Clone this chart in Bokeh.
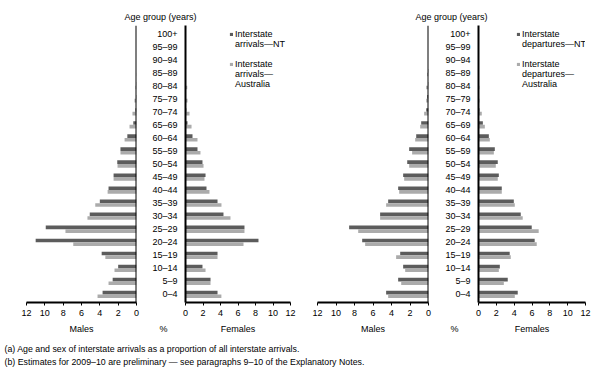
from bokeh.plotting import figure
from bokeh.models import (FactorRange, Range1d, Span, Label, Legend, LegendItem,
                          FixedTicker, ColumnDataSource)
from bokeh.layouts import row, column
from bokeh.transform import dodge
from bokeh.embed import file_html
from bokeh.resources import INLINE

# ---------------- data (bottom to top) ----------------
ages = ["0–4", "5–9", "10–14", "15–19", "20–24", "25–29", "30–34", "35–39",
        "40–44", "45–49", "50–54", "55–59", "60–64", "65–69", "70–74", "75–79",
        "80–84", "85–89", "90–94", "95–99", "100+"]

arr_males_nt = [3.7, 2.6, 2.0, 3.8, 11.0, 9.9, 5.1, 4.0, 3.05, 2.5, 2.1, 1.75, 1.0,
                0.35, 0.12, 0.05, 0.03, 0, 0, 0, 0]
arr_males_aus = [4.25, 3.05, 2.4, 3.4, 6.9, 7.75, 5.35, 4.5, 3.15, 2.5, 2.07, 1.75, 1.3,
                 0.76, 0.44, 0.22, 0.11, 0.03, 0, 0, 0]
arr_females_nt = [3.66, 2.86, 1.94, 3.66, 8.34, 6.74, 4.34, 3.66, 2.4, 2.29, 1.94, 1.37, 0.8,
                  0.23, 0.1, 0.05, 0.03, 0, 0, 0, 0]
arr_females_aus = [4.1, 2.86, 2.29, 3.66, 6.63, 6.74, 5.14, 4.11, 2.74, 2.17, 2.06, 1.71, 1.37,
                   0.69, 0.46, 0.23, 0.2, 0.05, 0, 0, 0]

dep_males_nt = [4.58, 3.28, 2.74, 3.06, 7.17, 8.58, 5.23, 4.36, 3.28, 2.74, 2.3, 2.09, 1.33,
                0.79, 0.25, 0.14, 0.05, 0.05, 0, 0, 0]
dep_males_aus = [4.36, 2.95, 2.52, 3.5, 6.85, 7.6, 5.23, 4.58, 3.17, 2.63, 2.09, 1.77, 1.44,
                 0.9, 0.47, 0.25, 0.25, 0.14, 0, 0, 0]
dep_females_nt = [4.4, 3.28, 2.39, 3.5, 6.3, 5.97, 4.74, 3.96, 2.61, 2.28, 2.16, 1.83, 1.16,
                  0.49, 0.11, 0.05, 0.05, 0, 0, 0, 0]
dep_females_aus = [4.07, 2.84, 2.28, 3.62, 6.53, 6.75, 4.96, 4.07, 2.61, 2.16, 1.94, 1.72, 1.27,
                   0.71, 0.37, 0.11, 0.11, 0.05, 0, 0, 0]

x_ticks = [0, 2, 4, 6, 8, 10, 12]
header_text = "Age group (years)"
arr_labels = [["Interstate", "arrivals—NT"], ["Interstate", "arrivals—", "Australia"]]
dep_labels = [["Interstate", "departures—NT"], ["Interstate", "departures—", "Australia"]]
axis_titles = ["Males", "%", "Females"]
footnotes = ["(a) Age and sex of interstate arrivals as a proportion of all interstate arrivals.",
             "(b) Estimates for 2009–10 are preliminary — see paragraphs 9–10 of the Explanatory Notes."]

# ---------------- style ----------------
FONT = "Liberation Sans"
FS = "9px"
DARK = "#5c5c5c"
LIGHT = "#ababab"
FRAME_H = 277
BOTTOM = 19
FIG_H = FRAME_H + BOTTOM


def base_fig(width, left, right, x_range, yloc):
    p = figure(width=width, height=FIG_H, x_range=x_range,
               y_range=FactorRange(factors=ages, range_padding=0.011),
               output_backend="svg", toolbar_location=None,
               y_axis_location=yloc, min_border_left=left, min_border_right=right,
               min_border_top=0, min_border_bottom=BOTTOM)
    p.outline_line_color = None
    p.xgrid.visible = False
    p.ygrid.visible = False
    ax = p.xaxis[0]
    ax.ticker = FixedTicker(ticks=x_ticks)
    ax.axis_line_width = 2
    ax.axis_line_color = "black"
    ax.major_tick_out = 3
    ax.major_tick_in = 0
    ax.minor_tick_out = 0
    ax.minor_tick_in = 0
    ax.major_tick_line_color = "black"
    ax.major_label_standoff = 4
    ax.major_label_text_font = FONT
    ax.major_label_text_font_size = FS
    ax.major_label_text_color = "black"
    return p


def bars(p, nt, aus):
    src = ColumnDataSource(dict(age=ages, nt=nt, aus=aus))
    r1 = p.hbar(y=dodge("age", 0.14, range=p.y_range), left=0, right="nt", height=0.28,
                source=src, fill_color=DARK, line_color=None)
    r2 = p.hbar(y=dodge("age", -0.14, range=p.y_range), left=0, right="aus", height=0.28,
                source=src, fill_color=LIGHT, line_color=None)
    return r1, r2


def male_fig(width, left, frame_w, nt, aus):
    p = base_fig(width, left, width - left - frame_w, Range1d(12, 0), None)
    bars(p, nt, aus)
    p.add_layout(Span(location=0, dimension="height", line_color="black", line_width=2))
    return p


def female_fig(width, left, frame_w, nt, aus, labels, leg_x):
    p = base_fig(width, left, width - left - frame_w, Range1d(0, 12), "left")
    ya = p.yaxis[0]
    ya.axis_line_width = 2
    ya.axis_line_color = "black"
    ya.major_tick_out = 0
    ya.major_tick_in = 0
    ya.major_label_standoff = 8
    ya.major_label_text_font = FONT
    ya.major_label_text_font_size = FS
    ya.major_label_text_color = "black"
    r1, r2 = bars(p, nt, aus)
    items = [LegendItem(label=labels[0][0], renderers=[r1])]
    items += [LegendItem(label=t, renderers=[]) for t in labels[0][1:]]
    items += [LegendItem(label=" ", renderers=[])]
    items += [LegendItem(label=labels[1][0], renderers=[r2])]
    items += [LegendItem(label=t, renderers=[]) for t in labels[1][1:]]
    leg = Legend(items=items, location=(leg_x, 213), orientation="vertical",
                 glyph_width=4, glyph_height=4, label_standoff=2, spacing=0,
                 padding=0, margin=0, label_height=10,
                 label_text_font=FONT, label_text_font_size=FS,
                 label_text_color="black",
                 border_line_color=None, background_fill_alpha=0)
    p.add_layout(leg)
    return p


mL = male_fig(142, 26, 110, arr_males_nt, arr_males_aus)
fL = female_fig(158, 43, 105, arr_females_nt, arr_females_aus, arr_labels, 44)
mR = male_fig(134, 17, 111, dep_males_nt, dep_males_aus)
fR = female_fig(161, 44, 107, dep_females_nt, dep_females_aus, dep_labels, 38)

TOTAL_W = 142 + 158 + 134 + 161


def text_fig(h):
    p = figure(width=TOTAL_W, height=h, x_range=Range1d(0, TOTAL_W), y_range=Range1d(0, h),
               output_backend="svg", toolbar_location=None, x_axis_location=None,
               y_axis_location=None, min_border=0)
    p.outline_line_color = None
    p.grid.visible = False
    return p


head = text_fig(25)
for xx in (124, 415):
    head.add_layout(Label(x=xx, y=9, text=header_text, text_baseline="middle",
                          text_font=FONT, text_font_size=FS, text_color="black"))

foot = text_fig(50)
# axis titles under each panel: Males | % | Females
for xs in ((81, 163, 237.5), (372.5, 454, 531.5)):
    for xx, t in zip(xs, axis_titles):
        foot.add_layout(Label(x=xx, y=43, text=t, text_align="center", text_baseline="middle",
                              text_font=FONT, text_font_size=FS, text_color="black"))
for yy, t in zip((23, 10), footnotes):
    foot.add_layout(Label(x=4, y=yy, text=t, text_baseline="middle",
                          text_font=FONT, text_font_size="8.8px", text_color="black"))

layout = column(head, row(mL, fL, mR, fR), foot)

open("out.html", "w").write(file_html(layout, INLINE))
